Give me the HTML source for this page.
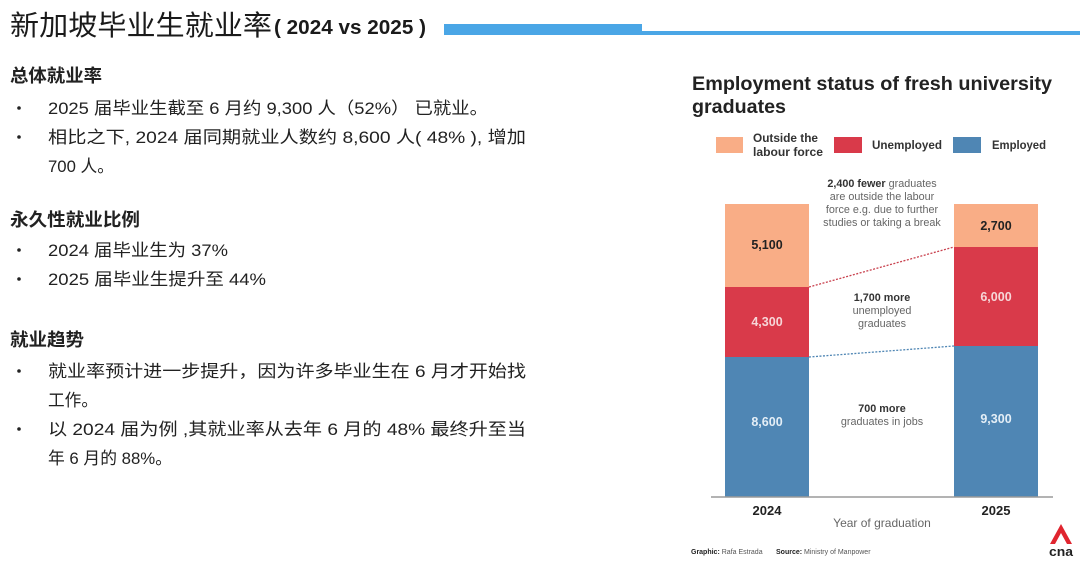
<!DOCTYPE html>
<html><head><meta charset="utf-8">
<style>
html,body{margin:0;padding:0;background:#fff;}
body{width:1080px;height:561px;overflow:hidden;position:relative;}
svg{position:absolute;left:0;top:0;}
.cn{font-family:"Liberation Sans","Noto Sans CJK SC",sans-serif;}
.en{font-family:"Liberation Sans",sans-serif;}
</style></head>
<body>
<svg width="1080" height="561" viewBox="0 0 1080 561" xmlns="http://www.w3.org/2000/svg">
<!-- Header -->
<text class="cn" x="10" y="35" font-size="28" fill="#1a1a1a" textLength="262" lengthAdjust="spacingAndGlyphs">新加坡毕业生就业率</text>
<text class="cn" x="274" y="34" font-size="20" font-weight="bold" fill="#1a1a1a" textLength="152" lengthAdjust="spacingAndGlyphs">( 2024 vs 2025 )</text>
<rect x="444" y="24" width="198" height="11" fill="#4aa6e6"/>
<rect x="642" y="31" width="438" height="4" fill="#4aa6e6"/>

<!-- Left text -->
<g class="cn" fill="#222">
<text x="10" y="82" font-size="18" font-weight="bold" textLength="92" lengthAdjust="spacingAndGlyphs">总体就业率</text>
<circle cx="19" cy="108" r="1.8"/>
<text x="48" y="114" font-size="17" textLength="440" lengthAdjust="spacingAndGlyphs">2025 届毕业生截至 6 月约 9,300 人（52%） 已就业。</text>
<circle cx="19" cy="137" r="1.8"/>
<text x="48" y="143" font-size="17" textLength="478" lengthAdjust="spacingAndGlyphs">相比之下, 2024 届同期就业人数约 8,600 人( 48% ), 增加</text>
<text x="48" y="172" font-size="17" textLength="66" lengthAdjust="spacingAndGlyphs">700 人。</text>

<text x="10" y="226" font-size="18" font-weight="bold" textLength="130" lengthAdjust="spacingAndGlyphs">永久性就业比例</text>
<circle cx="19" cy="250" r="1.8"/>
<text x="48" y="256" font-size="17" textLength="180" lengthAdjust="spacingAndGlyphs">2024 届毕业生为 37%</text>
<circle cx="19" cy="279" r="1.8"/>
<text x="48" y="285" font-size="17" textLength="218" lengthAdjust="spacingAndGlyphs">2025 届毕业生提升至 44%</text>

<text x="10" y="346" font-size="18" font-weight="bold" textLength="74" lengthAdjust="spacingAndGlyphs">就业趋势</text>
<circle cx="19" cy="371" r="1.8"/>
<text x="48" y="377" font-size="17" textLength="478" lengthAdjust="spacingAndGlyphs">就业率预计进一步提升，因为许多毕业生在 6 月才开始找</text>
<text x="48" y="406" font-size="17" textLength="50" lengthAdjust="spacingAndGlyphs">工作。</text>
<circle cx="19" cy="429" r="1.8"/>
<text x="48" y="435" font-size="17" textLength="478" lengthAdjust="spacingAndGlyphs">以 2024 届为例 ,其就业率从去年 6 月的 48% 最终升至当</text>
<text x="48" y="464" font-size="17" textLength="124" lengthAdjust="spacingAndGlyphs">年 6 月的 88%。</text>
</g>

<!-- Chart title -->
<g class="en" fill="#222" font-weight="bold">
<text x="692" y="90" font-size="19.5" textLength="360" lengthAdjust="spacingAndGlyphs">Employment status of fresh university</text>
<text x="692" y="113" font-size="19.5" textLength="94" lengthAdjust="spacingAndGlyphs">graduates</text>
</g>

<!-- Legend -->
<rect x="716" y="137" width="27" height="16" fill="#f9ad86"/>
<rect x="834" y="137" width="28" height="16" fill="#d93a4a"/>
<rect x="953" y="137" width="28" height="16" fill="#4f86b4"/>
<g class="en" fill="#333" font-weight="bold" font-size="11.5">
<text x="753" y="142" textLength="65" lengthAdjust="spacingAndGlyphs">Outside the</text>
<text x="753" y="156" textLength="70" lengthAdjust="spacingAndGlyphs">labour force</text>
<text x="872" y="149" textLength="70" lengthAdjust="spacingAndGlyphs">Unemployed</text>
<text x="992" y="149" textLength="54" lengthAdjust="spacingAndGlyphs">Employed</text>
</g>

<!-- Bars -->
<rect x="725" y="204" width="84" height="83" fill="#f9ad86"/>
<rect x="725" y="287" width="84" height="70" fill="#d93a4a"/>
<rect x="725" y="357" width="84" height="140" fill="#4f86b4"/>
<rect x="954" y="204" width="84" height="43" fill="#f9ad86"/>
<rect x="954" y="247" width="84" height="99" fill="#d93a4a"/>
<rect x="954" y="346" width="84" height="151" fill="#4f86b4"/>

<!-- Dotted connectors -->
<line x1="809" y1="287" x2="954" y2="247" stroke="#c9424f" stroke-width="1.3" stroke-dasharray="2 1.5"/>
<line x1="809" y1="357" x2="954" y2="346" stroke="#4f86b4" stroke-width="1.3" stroke-dasharray="2 1.5"/>

<!-- Axis -->
<line x1="711" y1="497" x2="1053" y2="497" stroke="#9a9a9a" stroke-width="1.5"/>

<!-- Bar labels -->
<g class="en" font-weight="bold" font-size="12.5" text-anchor="middle">
<text x="767" y="249" fill="#222">5,100</text>
<text x="996" y="230" fill="#222">2,700</text>
<text x="767" y="326" fill="#f6d6d8">4,300</text>
<text x="996" y="301" fill="#f6d6d8">6,000</text>
<text x="767" y="426" fill="#e4eef6">8,600</text>
<text x="996" y="423" fill="#e4eef6">9,300</text>
</g>

<!-- Annotations -->
<g class="en" font-size="10.8" text-anchor="middle" fill="#666">
<text x="882" y="187"><tspan font-weight="bold" fill="#333">2,400 fewer</tspan> graduates</text>
<text x="882" y="200">are outside the labour</text>
<text x="882" y="213">force e.g. due to further</text>
<text x="882" y="226">studies or taking a break</text>
<text x="882" y="301" font-weight="bold" fill="#333">1,700 more</text>
<text x="882" y="314">unemployed</text>
<text x="882" y="327">graduates</text>
<text x="882" y="412" font-weight="bold" fill="#333">700 more</text>
<text x="882" y="425">graduates in jobs</text>
</g>

<!-- Axis labels -->
<g class="en" text-anchor="middle">
<text x="767" y="515" font-size="13" font-weight="bold" fill="#222">2024</text>
<text x="996" y="515" font-size="13" font-weight="bold" fill="#222">2025</text>
<text x="882" y="527" font-size="12" fill="#666">Year of graduation</text>
</g>

<!-- Footer -->
<g class="en" font-size="7" fill="#555">
<text x="691" y="554"><tspan font-weight="bold" fill="#222">Graphic:</tspan> Rafa Estrada</text>
<text x="776" y="554"><tspan font-weight="bold" fill="#222">Source:</tspan> Ministry of Manpower</text>
</g>

<!-- CNA logo -->
<path d="M1061 524 L1050 544 L1055 544 L1061 533 L1067 544 L1072 544 Z" fill="#e0252f"/>
<text class="en" x="1061" y="556" font-size="13" font-weight="bold" fill="#222" text-anchor="middle" textLength="24" lengthAdjust="spacingAndGlyphs">cna</text>
</svg>
</body></html>
